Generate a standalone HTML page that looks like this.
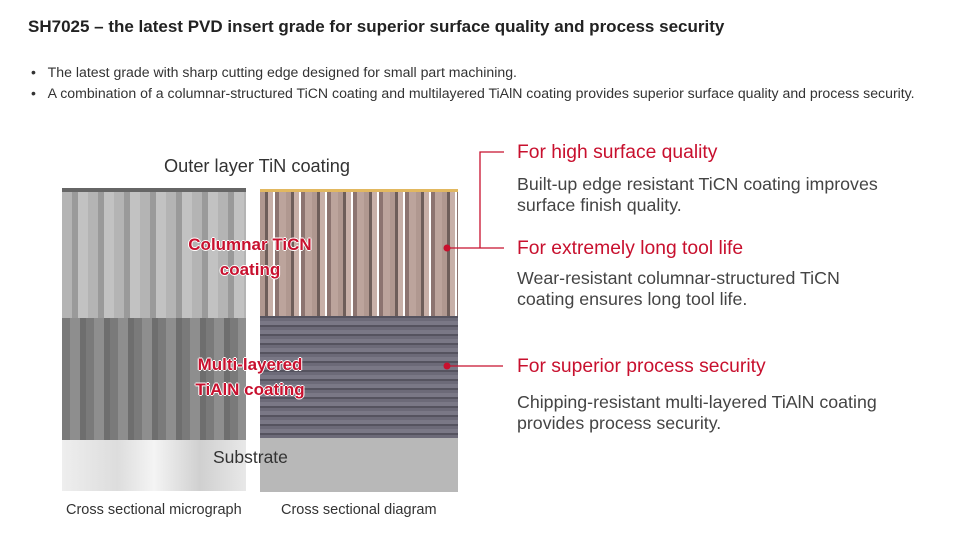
<!DOCTYPE html>
<html><head><meta charset="utf-8"><style>
body{margin:0;width:955px;height:533px;background:#fff;position:relative;overflow:hidden;font-family:"Liberation Sans",sans-serif;color:#333}
.a{position:absolute;white-space:nowrap}
.h{font-size:17px;font-weight:bold;color:#222}
.b{font-size:14.1px;color:#333}
.r{font-size:19.3px;color:#c8102e}
.t{font-size:17.8px;color:#444;line-height:21px}
.lab{font-size:17px;font-weight:bold;color:#c8102e;text-shadow:-1px 0 #fff,1px 0 #fff,0 -1px #fff,0 1px #fff;text-align:center}
.cap{font-size:14.5px;color:#333}
</style></head><body>
<div class="a h" style="left:28px;top:17px">SH7025 – the latest PVD insert grade for superior surface quality and process security</div>
<div class="a b" style="left:31px;top:64px">•&nbsp;&nbsp;&nbsp;The latest grade with sharp cutting edge designed for small part machining.</div>
<div class="a b" style="left:31px;top:85px">•&nbsp;&nbsp;&nbsp;A combination of a columnar-structured TiCN coating and multilayered TiAlN coating provides superior surface quality and process security.</div>
<div class="a" style="left:164px;top:156px;font-size:18.2px;color:#333">Outer layer TiN coating</div>
<div class="a" style="left:62px;top:188px;width:184px;height:130px;background:repeating-linear-gradient(90deg,#b4b4b4 0 10px,#9a9a9a 10px 16px,#c2c2c2 16px 26px);"></div>
<div class="a" style="left:62px;top:188px;width:184px;height:4px;background:#666"></div>
<div class="a" style="left:62px;top:318px;width:184px;height:122px;background:repeating-linear-gradient(90deg,#7a7a7a 0 8px,#8e8e8e 8px 18px,#6e6e6e 18px 24px);"></div>
<div class="a" style="left:62px;top:440px;width:184px;height:51px;background:linear-gradient(90deg,#eee,#ddd 30%,#f4f4f4 50%,#d0d0d0 75%,#e8e8e8)"></div>
<div class="a" style="left:260px;top:189px;width:198px;height:3px;background:#e2b860"></div>
<div class="a" style="left:260px;top:192px;width:198px;height:124px;background:repeating-linear-gradient(90deg,#b09890 0 5px,#6e5e5a 5px 8px,#c8b0a8 8px 13px,#fff 13px 15px,#8c7470 15px 19px,#bca49c 19px 26px)"></div>
<div class="a" style="left:260px;top:316px;width:198px;height:122px;background:repeating-linear-gradient(0deg,#6c6a78 0 3px,#55535f 3px 5px,#7a7886 5px 9px)"></div>
<div class="a" style="left:260px;top:438px;width:198px;height:54px;background:#b8b8b8"></div>
<div class="a lab" style="left:160px;top:232px;width:180px;line-height:25px">Columnar TiCN<br>coating</div>
<div class="a lab" style="left:160px;top:352px;width:180px;line-height:25px">Multi-layered<br>TiAlN coating</div>
<div class="a" style="left:213px;top:447px;font-size:17.5px;color:#333">Substrate</div>
<div class="a cap" style="left:66px;top:502px">Cross sectional micrograph</div>
<div class="a cap" style="left:281px;top:502px">Cross sectional diagram</div>
<svg class="a" style="left:0;top:0" width="955" height="533">
<g stroke="#c8102e" stroke-width="1.3" fill="none">
<path d="M504 152H480V248"/><path d="M447 248H504"/><path d="M447 366H503"/></g>
<circle cx="447" cy="248" r="3.5" fill="#c8102e"/><circle cx="447" cy="366" r="3.5" fill="#c8102e"/>
</svg>
<div class="a r" style="left:517px;top:142px">For high surface quality</div>
<div class="a t" style="left:517px;top:174px">Built-up edge resistant TiCN coating improves<br>surface finish quality.</div>
<div class="a r" style="left:517px;top:238px">For extremely long tool life</div>
<div class="a t" style="left:517px;top:268px">Wear-resistant columnar-structured TiCN<br>coating ensures long tool life.</div>
<div class="a r" style="left:517px;top:356px">For superior process security</div>
<div class="a t" style="left:517px;top:392px">Chipping-resistant multi-layered TiAlN coating<br>provides process security.</div>
</body></html>
